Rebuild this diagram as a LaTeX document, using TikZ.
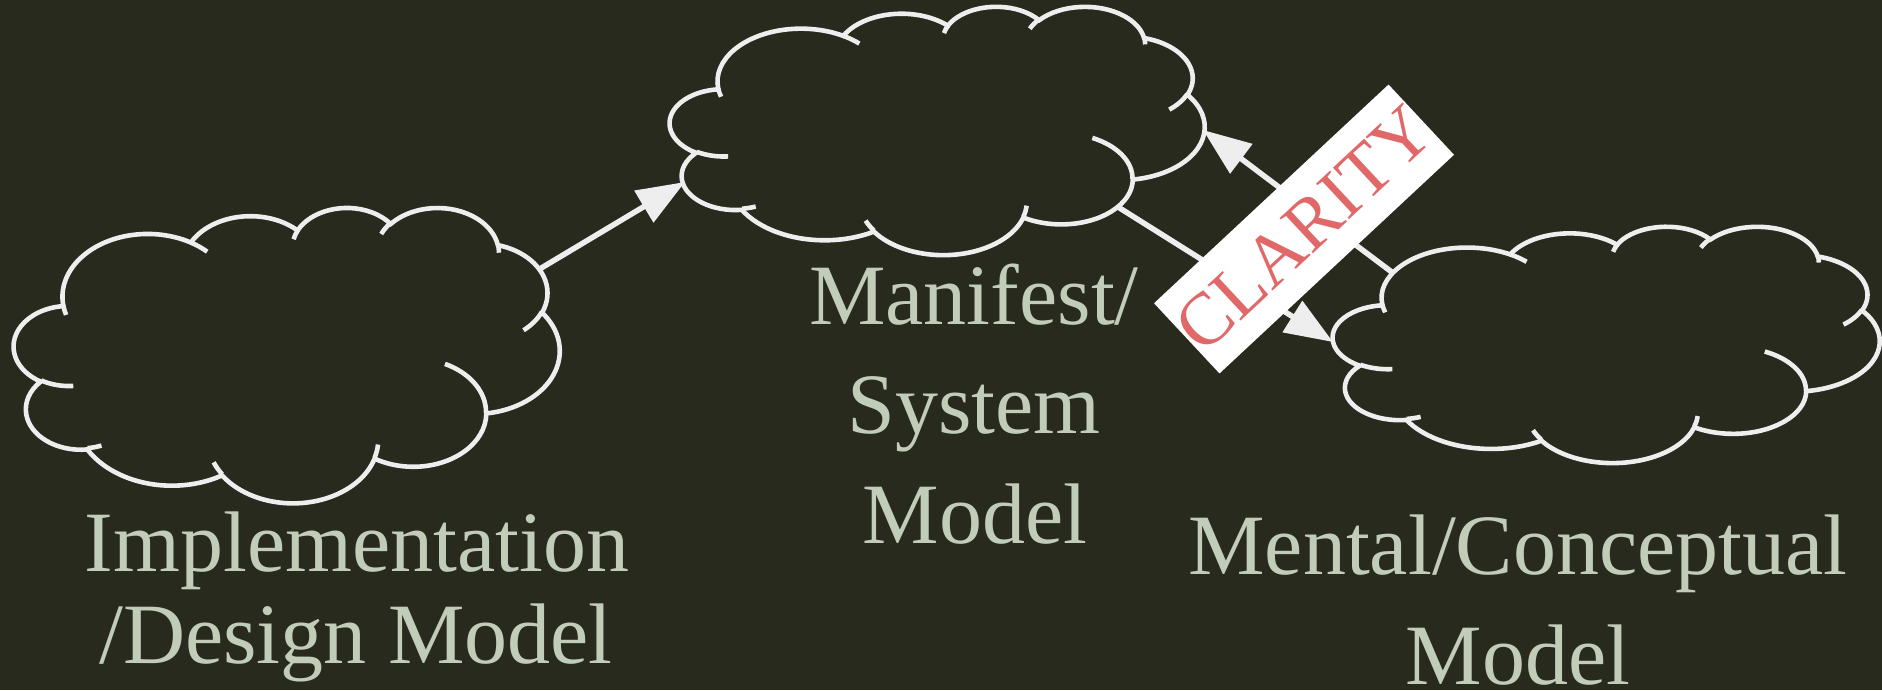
\documentclass[tikz,border=0pt]{standalone}
\usepackage{fontspec}
\setmainfont{Liberation Serif}
\usetikzlibrary{arrows.meta}
\definecolor{bgc}{HTML}{282A1D}
\definecolor{linec}{HTML}{EEEEEE}
\definecolor{txtc}{HTML}{C1CCB9}
\definecolor{redc}{HTML}{E06868}

\pgfmathdeclarefunction{vpar}{3}{%
  \begingroup
    \pgfmathparse{atan2((#2)*sin(#1),(#3)*cos(#1))}%
    \pgfmathsetmacro\vpard{\pgfmathresult-(#1)}%
    \pgfmathparse{(#1)+\vpard-360*round(\vpard/360)}%
    \pgfmathsmuggle\pgfmathresult
  \endgroup}

\newcommand\carc[4]{arc[start angle={vpar(#3,#1/1000,#2/1000)},end angle={vpar(#3+#4,#1/1000,#2/1000)},x radius={#1/432},y radius={#2/432}]}

\newcommand\drawcloud[4]{%
\begin{scope}[shift={(#1,#2)},x={(#3*0.005pt,0pt)},y={(0pt,-#4*0.005pt)}]
 \filldraw[cloudline] (9.0278,33.2639)
   \carc{6753}{9190}{-190.48748}{123.78053}
   \carc{5333}{7267}{-144.10238}{89.94523}
   \carc{4365}{5945}{-145.80792}{99.72302}
   \carc{4857}{6595}{-130.98607}{117.24173}
   \carc{5333}{7273}{-78.70888}{109.02692}
   \carc{6775}{9220}{-46.26725}{130.269}
   \carc{5785}{7867}{0.62502}{114.03333}
   \carc{6752}{9215}{22.4516}{115.17255}
   \carc{7720}{10543}{66.24263}{75.71102}
   \carc{4360}{5918}{-274.94208}{146.73557}
   \carc{4345}{5945}{-246.8285}{152.51885}
   -- cycle;
 \draw[cloudline,fill=none] (10.8634,60.5949) \carc{4345}{5945}{86.742}{26.4295}
   (16.0370,80.7847) \carc{4360}{5918}{73.61047}{11.44747}
   (38.1435,90.4861) \carc{6752}{9215}{137.62415}{14.0811}
   (66.7292,80.4421) \carc{6752}{9215}{6.45327}{15.99835}
   (79.0023,53.1343) \carc{5785}{7867}{-70.29235}{70.91737}
   (96.7546,35.5417) \carc{5333}{7273}{30.31803}{27.7515}
   (88.7130,12.5602) \carc{4857}{6595}{-13.74433}{14.8589}
   (67.3102,9.1481) \carc{4857}{6595}{-149.18145}{18.19537}
   (51.2523,10.9259) \carc{4365}{5945}{-163.49427}{17.68635}
   (32.4074,12.0185) \carc{6753}{9190}{-66.70695}{12.31935}
   (9.5532,36.5486) \carc{6753}{9190}{157.65435}{11.85817};
\end{scope}}

\begin{document}
\begin{tikzpicture}[x=0.5pt,y=-0.5pt,
  cloudline/.style={draw=linec,line width=2.3pt,fill=bgc},
  conn/.style={draw=linec,line width=2.75pt,-{Triangle[length=24pt,width=18pt]}},
  lbl/.style={text=txtc,font=\fontsize{43pt}{50pt}\selectfont,inner sep=0pt,anchor=base},
  clar/.style={fill=white,text=redc,minimum width=153pt,minimum height=48pt,inner sep=0pt,font=\fontsize{37pt}{37pt}\selectfont}]
\fill[bgc] (0,0) rectangle (1882,690);
\useasboundingbox (0,0) rectangle (1882,690);

\drawcloud{14}{207}{545}{295}
\drawcloud{670}{6}{534}{248}
\drawcloud{1333}{226}{546}{236}

\coordinate (c1out) at (538,270);
\coordinate (c2in) at (685,182);
\coordinate (c3out) at (1393,273);
\coordinate (c2inr) at (1203,130);
\coordinate (c2out) at (1118,207);
\coordinate (c3in) at (1333,342);

\draw[conn] (c1out) -- (c2in);
\draw[conn] (c3out) -- (c2inr);
\draw[conn] (c2out) -- (c3in);

\node[clar,rotate=43] (clarity) at (1304,229) {CLARITY};

\node[lbl] (impl1) at (357,571) {Implementation};
\node[lbl] (impl2) at (356,663) {/Design Model};
\node[lbl] (man1) at (974,324) {Manifest/};
\node[lbl] (man2) at (974,433) {System};
\node[lbl] (man3) at (975,543) {Model};
\node[lbl] (men1) at (1518,574) {Mental/Conceptual};
\node[lbl] (men2) at (1518,684) {Model};
\end{tikzpicture}
\end{document}
